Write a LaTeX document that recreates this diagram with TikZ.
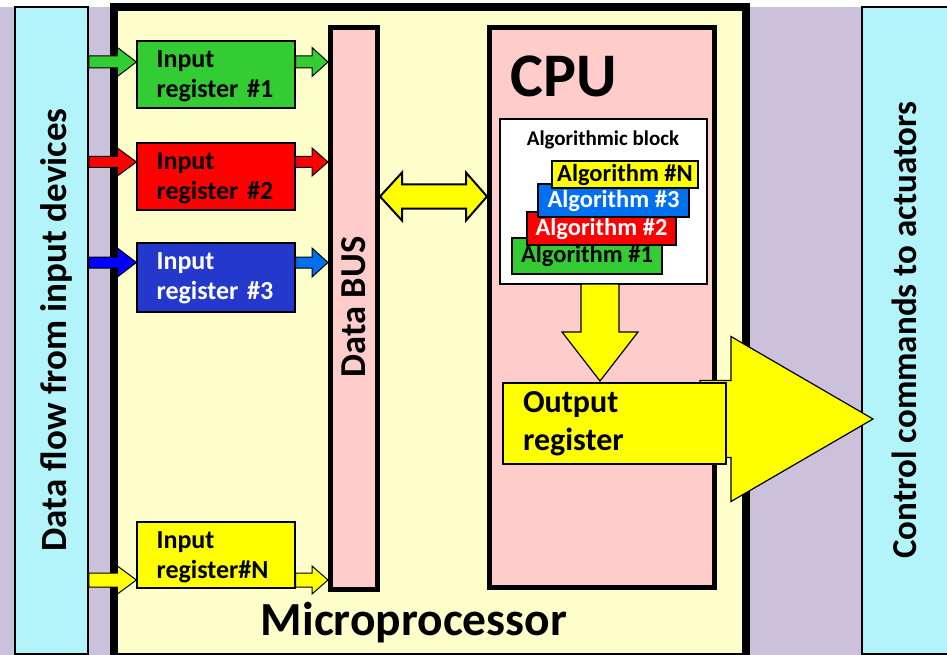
\documentclass[tikz,border=0pt]{standalone}
\usepackage{fontspec}
\setmainfont{Carlito}
\usetikzlibrary{calc}
\definecolor{lav}{RGB}{204,193,218}
\definecolor{cyanp}{RGB}{179,244,251}
\definecolor{mpy}{RGB}{255,255,204}
\definecolor{pinkc}{RGB}{255,204,204}
\definecolor{gr}{RGB}{51,204,51}
\definecolor{rd}{RGB}{255,0,0}
\definecolor{bl}{RGB}{36,56,204}
\definecolor{blA}{RGB}{0,112,240}
\definecolor{blI}{RGB}{0,0,255}
\definecolor{yl}{RGB}{255,255,0}
% horizontal block arrow: from, to, shaft half, head half, head length, fill, line width
\newcommand\hblock[7]{%
  \filldraw[fill=#6,draw=black,line width=#7,line join=miter] let \p1=(#1), \p2=(#2) in
  (\x1,\y1+#3) -- (\x2-#5,\y1+#3) -- (\x2-#5,\y1+#4) -- (\x2,\y1)
  -- (\x2-#5,\y1-#4) -- (\x2-#5,\y1-#3) -- (\x1,\y1-#3) -- cycle;}
\begin{document}
\begin{tikzpicture}[x=1pt,y=-1pt,
  panel/.style={draw=black,line width=1.5pt,fill=cyanp,inner sep=0},
  thickbox/.style={draw=black,fill=pinkc,inner sep=0},
  reg/.style={draw=black,line width=1.2pt,minimum width=158,text width=118,align=left,inner sep=0,
    font=\fontsize{26}{30}\selectfont\bfseries},
  regtext/.style={anchor=north west,inner sep=0,text width=130,align=left,
    font=\fontsize{26}{30}\selectfont\bfseries},
  alg/.style={draw=black,line width=1.3pt,inner sep=0,font=\fontsize{24.5}{24.5}\selectfont\bfseries},
  bigtxt/.style={font=\fontsize{#1}{#1}\selectfont\bfseries}]
\useasboundingbox (0,0) rectangle (947,655);
\clip (0,0) rectangle (947,655);
\fill[white] (0,0) rectangle (947,655);
\fill[lav] (0,7) rectangle (947,656);
% side panels
\node[panel,minimum width=73,minimum height=647] (inp) at (51.5,330.5) {};
\node[panel,minimum width=90,minimum height=647] (outp) at (907,330.5) {};
% microprocessor
\node[draw=black,fill=mpy,line width=8pt,inner sep=0,minimum width=632,minimum height=649.5] (mp) at (430,332.25) {};
% bus and cpu
\node[thickbox,line width=5pt,minimum width=47,minimum height=562] (bus) at (354,308.5) {};
\node[thickbox,line width=5pt,minimum width=225,minimum height=560] (cpu) at (602,307.5) {};
% input registers
\node[reg,fill=gr,minimum height=67] (r1) at (216,74.5) {};
\node[reg,fill=rd,minimum height=67] (r2) at (216,176.5) {};
\node[reg,fill=bl,minimum height=69] (r3) at (216,277.5) {};
\node[reg,fill=yl,minimum height=66] (rN) at (216,555) {};
\node[regtext] (r1t) at ($(r1.north west)+(20,10)$) {Input\\register \#1};
\node[regtext] (r2t) at ($(r2.north west)+(20,10)$) {Input\\register \#2};
\node[regtext,text=white] (r3t) at ($(r3.north west)+(20,10)$) {Input\\register \#3};
\node[regtext] (rNt) at ($(rN.north west)+(20,10)$) {Input\\register\#N};
\coordinate (y1) at (0,62);
\coordinate (y2) at (0,162);
\coordinate (y3) at (0,262.5);
\coordinate (yN) at (0,580);
\hblock{inp.east |- y1}{r1.west |- y1}{6pt}{14.5pt}{19pt}{gr}{1pt}
\hblock{r1.east |- y1}{bus.west |- y1}{6pt}{14.5pt}{16pt}{gr}{1pt}
\hblock{inp.east |- y2}{r2.west |- y2}{5.5pt}{14pt}{19pt}{rd}{1pt}
\hblock{r2.east |- y2}{bus.west |- y2}{5.5pt}{14pt}{16pt}{rd}{1pt}
\hblock{inp.east |- y3}{r3.west |- y3}{5.5pt}{14.5pt}{19pt}{blI}{1pt}
\hblock{r3.east |- y3}{bus.west |- y3}{5.5pt}{14.5pt}{16pt}{blA}{1pt}
\hblock{inp.east |- yN}{rN.west |- yN}{7pt}{14pt}{19pt}{yl}{1pt}
\hblock{rN.east |- yN}{bus.west |- yN}{7pt}{14pt}{16pt}{yl}{1pt}
% algorithmic block
\node[draw=black,fill=white,line width=1.2pt,inner sep=0,minimum width=207,minimum height=165] (ab) at (603.5,201.5) {};
\node[anchor=base,bigtxt=21] (abt) at (603,146) {Algorithmic block};
\node[alg,fill=gr,minimum width=150,minimum height=36] (a1) at (587,256) {Algorithm \#1};
\node[alg,fill=rd,text=white,minimum width=149,minimum height=33] (a2) at (601.5,228.5) {Algorithm \#2};
\node[alg,fill=blA,text=white,minimum width=151,minimum height=33] (a3) at (613.5,200.5) {Algorithm \#3};
\node[alg,fill=yl,minimum width=146,minimum height=27] (aN) at (625,174.5) {Algorithm \#N};
% down arrow from algorithmic block to output register
\coordinate (dtop) at (600,284);
\coordinate (dtip) at (600,381);
\filldraw[fill=yl,draw=black,line width=1.2pt,line join=miter] let \p1=(dtop), \p2=(dtip) in
  (\x1-19pt,\y1) -- (\x1-19pt,\y2+49pt) -- (\x1-38pt,\y2+49pt) -- (\x2,\y2)
  -- (\x1+38pt,\y2+49pt) -- (\x1+19pt,\y2+49pt) -- (\x1+19pt,\y1) -- cycle;
% big output arrow
\coordinate (bigs) at (700,419);
\coordinate (bigt) at (873,419);
\hblock{bigs}{bigt}{38.5pt}{82.5pt}{142pt}{yl}{1.2pt}
\node[draw=black,fill=yl,line width=1.2pt,minimum width=223,minimum height=81,text width=183,align=left,inner sep=0,
  font=\fontsize{32}{38}\selectfont\bfseries] (outreg) at (614.5,423.5) {Output\\register};
% bidirectional arrow bus <-> cpu
\coordinate (dy) at (0,196.5);
\filldraw[fill=yl,draw=black,line width=2pt,line join=miter] let \p1=(bus.east |- dy), \p2=(cpu.west |- dy) in
  (\x1,\y1) -- (\x1+22pt,\y1+24pt) -- (\x1+22pt,\y1+12pt) -- (\x2-21pt,\y1+12pt) -- (\x2-21pt,\y1+24pt)
  -- (\x2,\y1) -- (\x2-21pt,\y1-24pt) -- (\x2-21pt,\y1-12pt) -- (\x1+22pt,\y1-12pt) -- (\x1+22pt,\y1-24pt) -- cycle;
% texts
\node[anchor=base west,bigtxt=62] (cput) at (507,97) {CPU};
\node[rotate=90,bigtxt=36.5] (bust) at (354,307) {Data BUS};
\node[anchor=base,bigtxt=47.5] (mpt) at (414,635) {Microprocessor};
\node[rotate=90,bigtxt=37] (inpt) at (56,330) {Data flow from input devices};
\node[rotate=90,bigtxt=35] (outpt) at (904,330) {Control commands to actuators};
\end{tikzpicture}
\end{document}
